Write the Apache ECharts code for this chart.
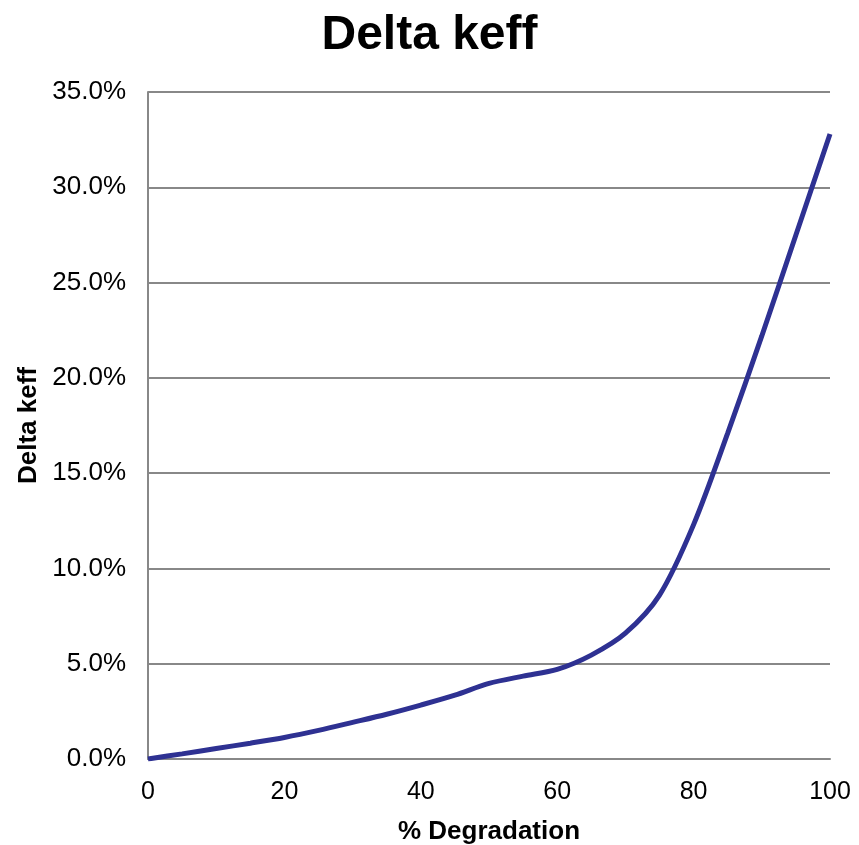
<!DOCTYPE html>
<html><head><meta charset="utf-8">
<script src="https://cdn.jsdelivr.net/npm/echarts@6/dist/echarts.min.js"></script>
<style>html,body{margin:0;padding:0;background:#fff}#c{width:859px;height:845px}</style>
</head><body><div id="c"></div>
<script>
const degradation = [0,5,10,15,20,25,30,35,40,45,50,55,60,65,70,75,80,85,90,95,100];
const deltaKeff = [0,0.0027,0.0055,0.0083,0.0113,0.015,0.0192,0.0235,0.0283,0.0335,0.0397,0.0435,0.047,0.0545,0.066,0.086,0.123,0.171,0.222,0.275,0.328];
const titleText = 'Delta keff';
const xName = '% Degradation';
const yName = 'Delta keff';

const chart = echarts.init(document.getElementById('c'));
chart.setOption({
  animation:false,
  title:{text:titleText,left:'center',top:7,textStyle:{fontFamily:'Liberation Sans',fontWeight:'bold',fontSize:48,color:'#000'}},
  grid:{left:148,right:29,top:92,bottom:86,containLabel:false,outerBoundsMode:'none'},
  xAxis:{type:'value',min:0,max:100,interval:20,name:xName,nameLocation:'middle',nameGap:60,
    nameTextStyle:{fontFamily:'Liberation Sans',fontWeight:'bold',fontSize:26,color:'#000'},
    axisLine:{show:true,lineStyle:{color:'#888',width:2}},axisTick:{show:false},splitLine:{show:false},
    axisLabel:{fontFamily:'Liberation Sans',fontSize:25,color:'#000',margin:21}},
  yAxis:{type:'value',min:0,max:0.35,interval:0.05,name:yName,nameLocation:'middle',nameGap:106,
    nameTextStyle:{fontFamily:'Liberation Sans',fontWeight:'bold',fontSize:26,color:'#000'},
    axisLine:{show:true,lineStyle:{color:'#888',width:2}},axisTick:{show:false},
    splitLine:{show:true,lineStyle:{color:'#888',width:2}},
    axisLabel:{fontFamily:'Liberation Sans',fontSize:26,color:'#000',margin:22,formatter:v=>(v*100).toFixed(1)+'%'}},
  series:[{type:'line',data:degradation.map((x,i)=>[x,deltaKeff[i]]),smooth:0.3,showSymbol:false,
    lineStyle:{color:'#2e3192',width:5}}]
});
</script></body></html>
